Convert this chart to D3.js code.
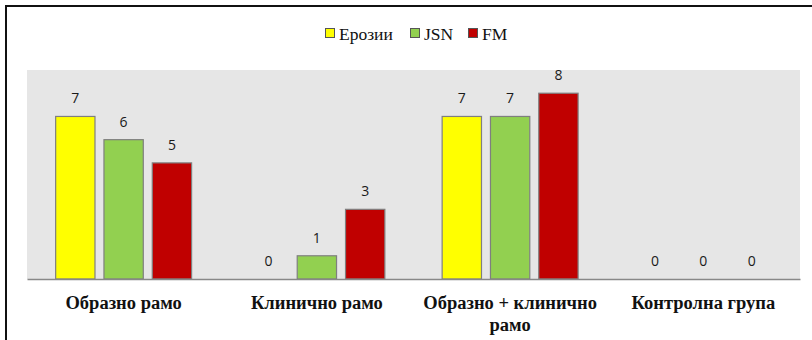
<!DOCTYPE html>
<html>
<head>
<meta charset="utf-8">
<script src="https://cdn.jsdelivr.net/npm/d3@7/dist/d3.min.js"></script>
<style>
  html, body { margin: 0; padding: 0; background: #fff; }
  svg { display: block; }
  .serif { font-family: "Liberation Serif", "Times New Roman", serif; }
  .num { font-family: "Open Sans", "Noto Sans", sans-serif; }
</style>
</head>
<body>
<svg id="chart" width="812" height="340"></svg>
<script>
// Groups along the x axis
const categories = ["Образно рамо", "Клинично рамо", "Образно + клинично рамо", "Контролна група"];
// Series names (legend order)
const seriesNames = ["Ерозии", "JSN", "FM"];
// Values per series, one per group
const erozii = [7, 0, 7, 0];
const jsn = [6, 1, 7, 0];
const fm = [5, 3, 8, 0];
const seriesValues = [erozii, jsn, fm];
const seriesColors = ["#FFFF00", "#92D050", "#C00000"];

const svg = d3.select("#chart");
const W = 812, H = 340;

// Outer frame
svg.append("rect")
  .attr("x", 6).attr("y", 6)
  .attr("width", W).attr("height", H)
  .attr("fill", "#fff")
  .attr("stroke", "#111").attr("stroke-width", 2);

const plot = { left: 27, right: 800, top: 70, bottom: 279 };

const x0 = d3.scaleBand()
  .domain(categories)
  .range([plot.left, plot.right]);

const x1 = d3.scaleBand()
  .domain(seriesNames)
  .range([0, x0.bandwidth()])
  .paddingInner(0.186)
  .paddingOuter(0.593);

const y = d3.scaleLinear()
  .domain([0, 9])
  .range([plot.bottom, plot.top]);

// Plot area background
svg.append("rect")
  .attr("x", plot.left).attr("y", plot.top)
  .attr("width", plot.right - plot.left)
  .attr("height", plot.bottom - plot.top)
  .attr("fill", "#E6E6E6");

// Flattened records for bars and labels
const records = [];
categories.forEach((c, i) => {
  seriesNames.forEach((s, j) => {
    records.push({ cat: c, series: s, value: seriesValues[j][i], color: seriesColors[j] });
  });
});

const groups = svg.append("g");

groups.selectAll("rect.bar")
  .data(records.filter(d => d.value > 0))
  .join("rect")
  .attr("class", "bar")
  .attr("x", d => x0(d.cat) + x1(d.series))
  .attr("y", d => y(d.value))
  .attr("width", x1.bandwidth())
  .attr("height", d => y(0) - y(d.value))
  .attr("fill", d => d.color)
  .attr("stroke", "#7F7F7F")
  .attr("stroke-width", 1.2);

groups.selectAll("text.val")
  .data(records)
  .join("text")
  .attr("class", "val num")
  .attr("x", d => x0(d.cat) + x1(d.series) + x1.bandwidth() / 2)
  .attr("y", d => y(d.value) - 13)
  .attr("text-anchor", "middle")
  .style("font-size", "14px")
  .attr("fill", "#1a1a1a")
  .text(d => d.value);

// Category axis
const xAxis = d3.axisBottom(x0).tickSize(0).tickPadding(0);
const axisG = svg.append("g")
  .attr("transform", `translate(0,${plot.bottom})`)
  .call(xAxis);
axisG.select(".domain")
  .attr("stroke", "#888")
  .attr("stroke-width", 1.5);
axisG.selectAll(".tick text")
  .attr("class", "serif")
  .style("font-family", "\"Liberation Serif\", \"Times New Roman\", serif")
  .style("font-weight", "bold")
  .style("font-size", "18.5px")
  .attr("fill", "#111")
  .attr("dy", 0)
  .each(function () {
    const t = d3.select(this);
    const words = t.text().split(" ");
    const maxW = 185;
    const y0 = 30, lh = 22;
    t.text(null);
    let line = [];
    let lineNo = 0;
    let tspan = t.append("tspan").attr("x", 0).attr("y", y0);
    words.forEach(w => {
      line.push(w);
      tspan.text(line.join(" "));
      if (tspan.node().getComputedTextLength() > maxW && line.length > 1) {
        line.pop();
        tspan.text(line.join(" "));
        line = [w];
        lineNo++;
        tspan = t.append("tspan").attr("x", 0).attr("y", y0 + lineNo * lh).text(w);
      }
    });
  });

// Legend
const legendItems = seriesNames.map((s, j) => ({ name: s, color: seriesColors[j] }));
const legend = svg.append("g");
const legendX = [325, 410, 468];
legend.selectAll("rect")
  .data(legendItems)
  .join("rect")
  .attr("x", (d, i) => legendX[i] + 0.5)
  .attr("y", 28.5)
  .attr("width", 9)
  .attr("height", 9)
  .attr("fill", d => d.color)
  .attr("stroke", "#555")
  .attr("stroke-width", 1);
legend.selectAll("text")
  .data(legendItems)
  .join("text")
  .attr("class", "serif")
  .attr("x", (d, i) => legendX[i] + 14)
  .attr("y", 40)
  .style("font-size", "17.5px")
  .attr("fill", "#111")
  .text(d => d.name);
</script>
</body>
</html>
